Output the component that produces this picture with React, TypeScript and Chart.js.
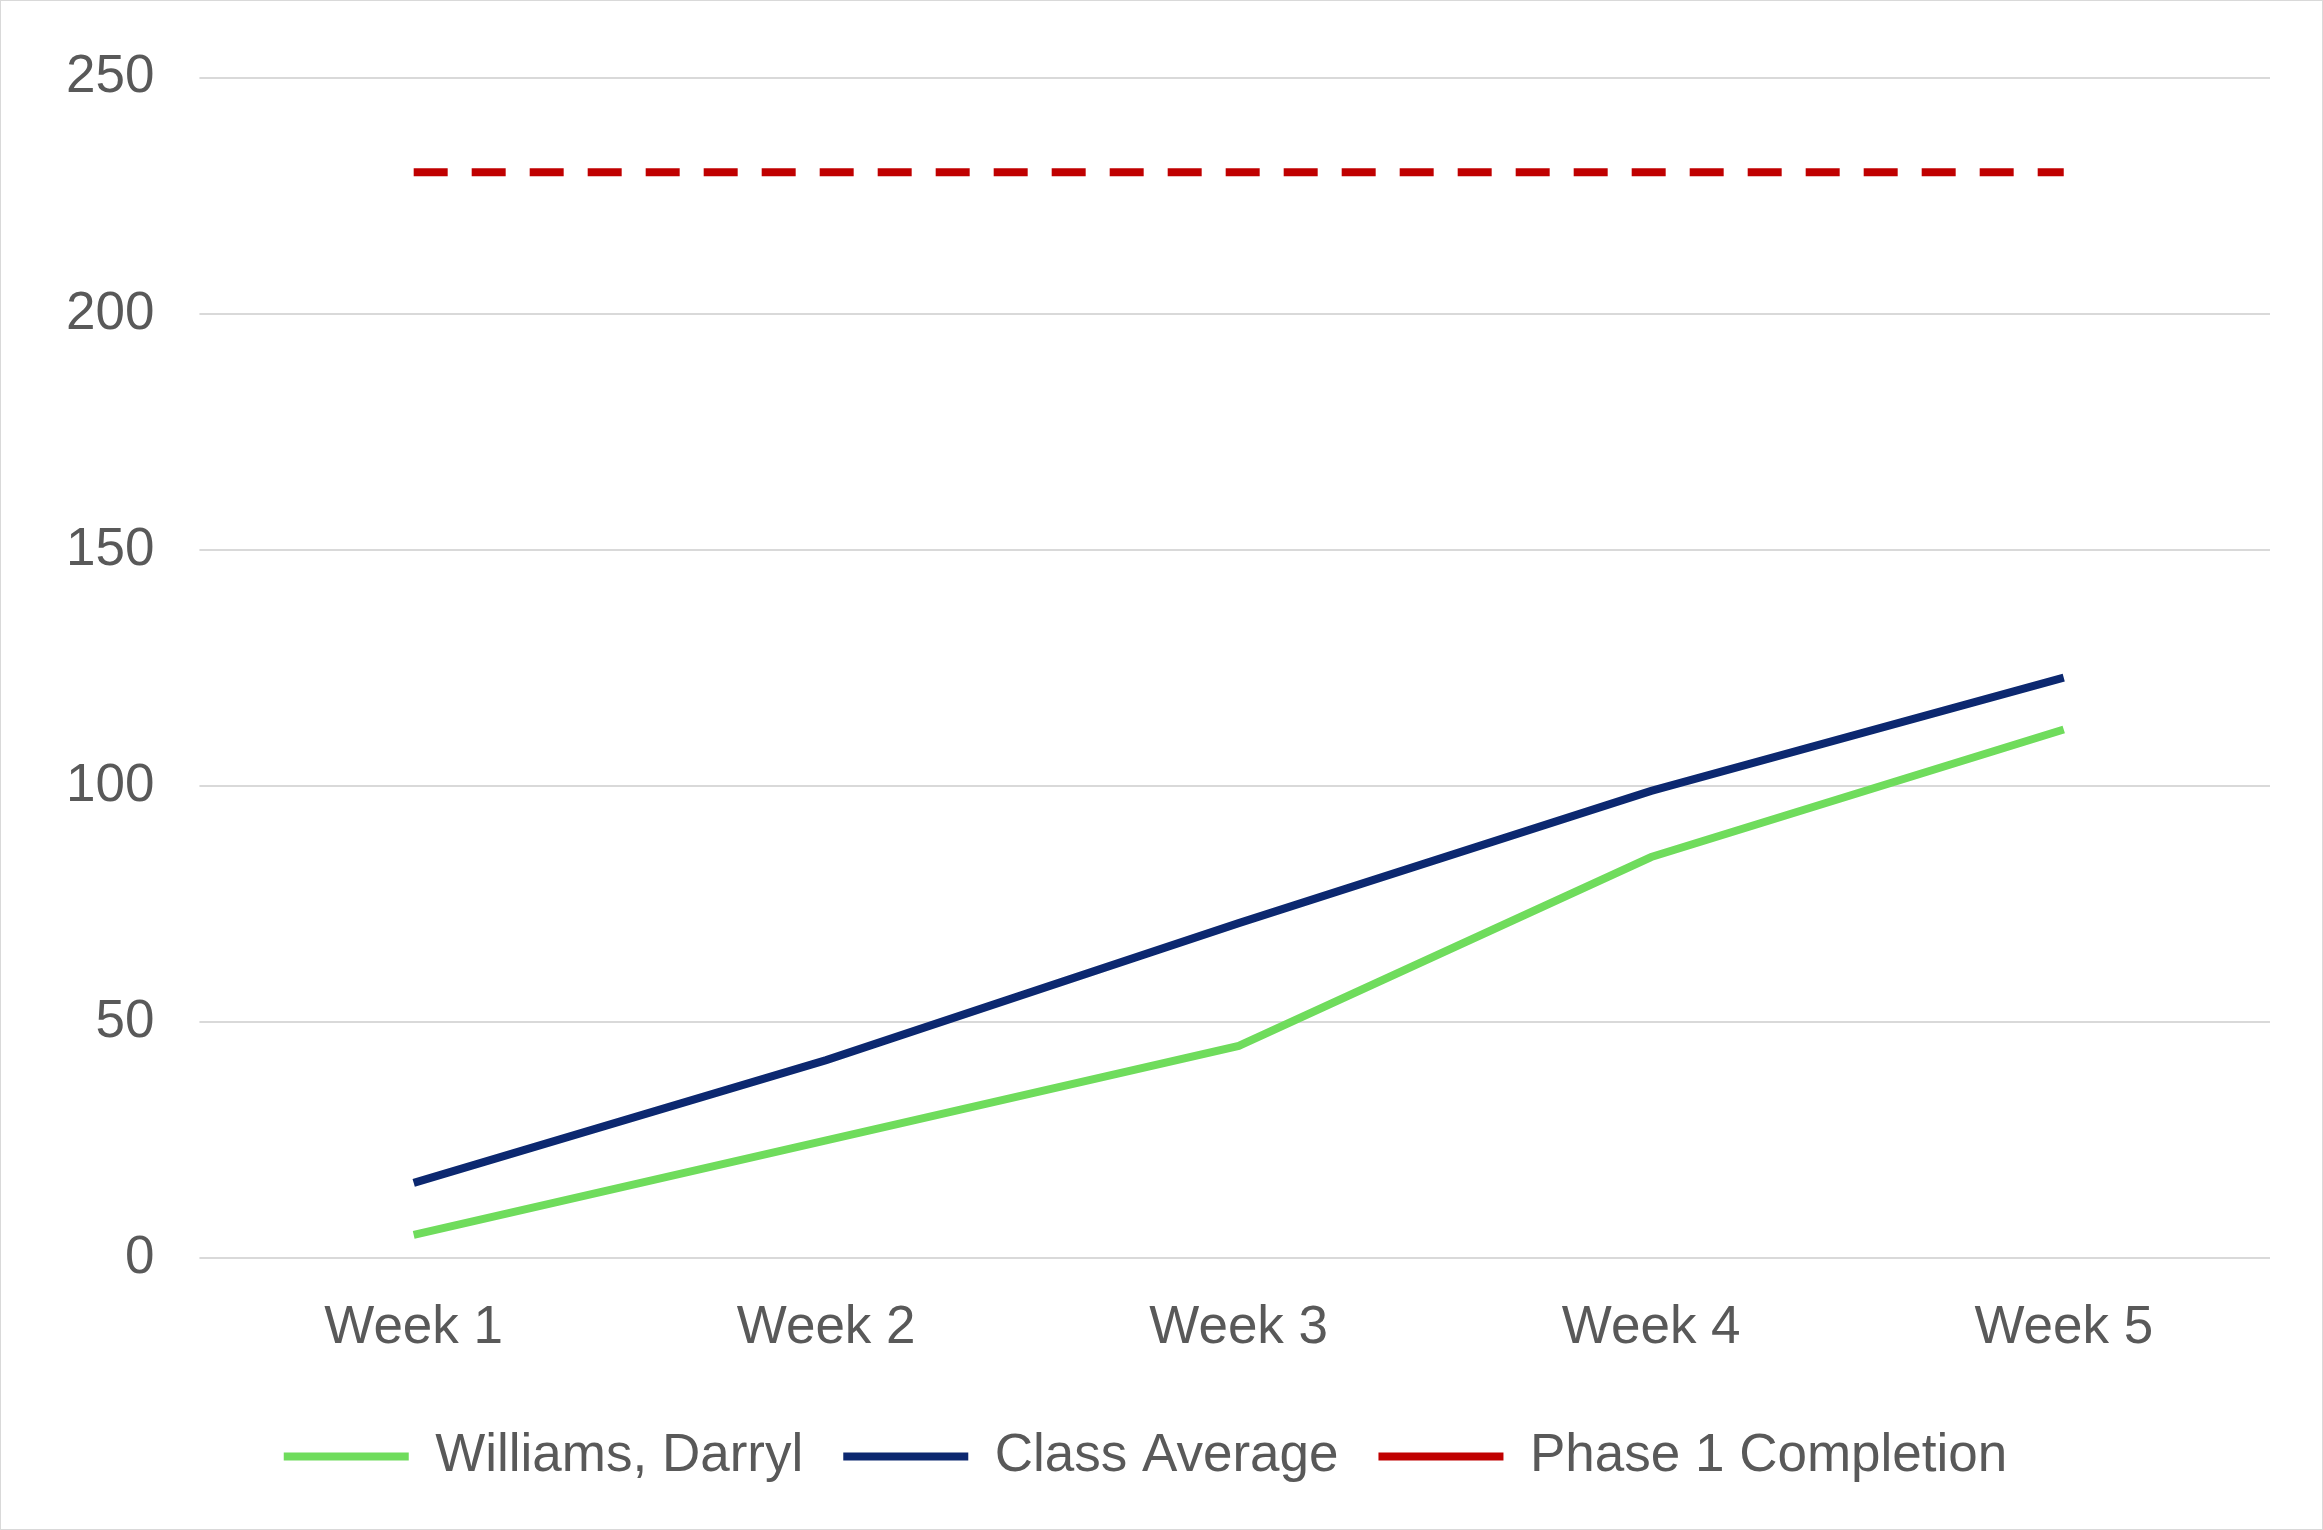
import { useEffect, useRef } from 'react'
import Chart from 'chart.js/auto'

const weeks = ['Week 1', 'Week 2', 'Week 3', 'Week 4', 'Week 5']
const williams = [5, 25, 45, 85, 112]
const classAverage = [16, 42, 71, 99, 123]
const phase1 = [230, 230, 230, 230, 230]
const yTicks = [0, 50, 100, 150, 200, 250]

export default function App() {
  const canvasRef = useRef<HTMLCanvasElement>(null)

  useEffect(() => {
    document.body.style.margin = '0'
    if (!canvasRef.current) return
    const chart = new Chart(canvasRef.current, {
      type: 'line',
      data: {
        labels: weeks,
        datasets: [
          { label: 'Williams, Darryl', data: williams, borderColor: '#6fdc5c', backgroundColor: '#6fdc5c', borderWidth: 8, pointRadius: 0, tension: 0 },
          { label: 'Class Average', data: classAverage, borderColor: '#0c2870', backgroundColor: '#0c2870', borderWidth: 8, pointRadius: 0, tension: 0 },
          { label: 'Phase 1 Completion', data: phase1, borderColor: '#c00000', backgroundColor: '#c00000', borderWidth: 8, borderDash: [34, 24], pointRadius: 0 },
        ],
      },
      options: {
        animation: false,
        responsive: false,
        layout: { padding: { left: 20, right: 52, top: 26, bottom: 36 } },
        scales: {
          x: {
            offset: true,
            grid: { display: false },
            border: { display: false },
            ticks: { color: '#595959', font: { family: 'Liberation Sans', size: 53 }, padding: 30 },
          },
          y: {
            min: 0,
            max: 250,
            afterBuildTicks: (axis: any) => { axis.ticks = yTicks.map((v) => ({ value: v })) },
            grid: { color: '#d9d9d9', lineWidth: 2 },
            border: { display: false },
            ticks: { color: '#595959', font: { family: 'Liberation Sans', size: 53 }, padding: 45 },
          },
        },
        plugins: {
          legend: {
            position: 'bottom',
            labels: {
              color: '#595959',
              font: { family: 'Liberation Sans', size: 53 },
              boxWidth: 125,
              boxHeight: 9,
              usePointStyle: true,
              pointStyle: 'line',
              pointStyleWidth: 125,
              padding: 40,
            },
          },
          tooltip: { enabled: false },
        },
      },
    })
    return () => chart.destroy()
  }, [])

  return (
    <div style={{ width: 2321, height: 1528, border: '1px solid #d9d9d9', background: '#fff' }}>
      <canvas ref={canvasRef} width={2321} height={1528} />
    </div>
  )
}
